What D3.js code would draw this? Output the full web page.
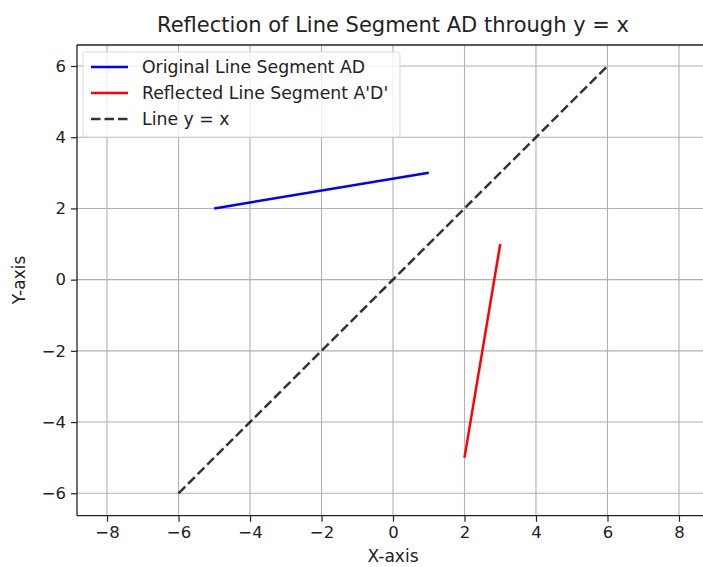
<!DOCTYPE html>
<html><head><meta charset="utf-8">
<script src="https://cdn.jsdelivr.net/npm/d3@7"></script>
<style>body{margin:0;background:#fff}svg{display:block}text{font-family:"DejaVu Sans",sans-serif;fill:#222}</style>
</head><body>
<script>
const originalX = [-5, 1];
const originalY = [2, 3];
const reflectedX = [2, 3];
const reflectedY = [-5, 1];
const diagX = [-6, 6];
const diagY = [-6, 6];
const xTicks = [-8, -6, -4, -2, 0, 2, 4, 6, 8];
const yTicks = [-6, -4, -2, 0, 2, 4, 6];
const seriesNames = ["Original Line Segment AD", "Reflected Line Segment A'D'", "Line y = x"];
const title = "Reflection of Line Segment AD through y = x";

const W = 703, H = 567;
const L = 77, R = 709, T = 45, B = 515.7;
const svg = d3.select("body").append("svg").attr("width", W).attr("height", H);
const x = d3.scaleLinear().domain([-8.84, 8.84]).range([L, R]);
const y = d3.scaleLinear().domain([-6.63, 6.59]).range([B, T]);

const g = svg.append("g");
// grid
g.selectAll(".gx").data(xTicks).join("line").attr("x1", d => x(d)).attr("x2", d => x(d))
  .attr("y1", T).attr("y2", B).attr("stroke", "#b0b0b0").attr("stroke-width", 1.1);
g.selectAll(".gy").data(yTicks).join("line").attr("y1", d => y(d)).attr("y2", d => y(d))
  .attr("x1", L).attr("x2", R).attr("stroke", "#b0b0b0").attr("stroke-width", 1.1);

const line = d3.line().x(d => x(d[0])).y(d => y(d[1]));
const zip = (a, b) => a.map((v, i) => [v, b[i]]);
g.append("path").attr("d", line(zip(originalX, originalY))).attr("stroke", "#0000ff").attr("stroke-width", 2.5).attr("fill", "none");
g.append("path").attr("d", line(zip(reflectedX, reflectedY))).attr("stroke", "#ff0000").attr("stroke-width", 2.5).attr("fill", "none");
g.append("path").attr("d", line(zip(diagX, diagY))).attr("stroke", "#000").attr("stroke-opacity", 0.8).attr("stroke-width", 2.5).attr("stroke-dasharray", "9.5,4").attr("fill", "none");

// axes
const fmt = d => d < 0 ? "\u2212" + (-d) : d;
const xa = svg.append("g").attr("transform", `translate(0,${B})`)
  .call(d3.axisBottom(x).tickValues(xTicks).tickSize(6).tickPadding(5).tickFormat(fmt));
const ya = svg.append("g").attr("transform", `translate(${L},0)`)
  .call(d3.axisLeft(y).tickValues(yTicks).tickSize(6).tickPadding(5).tickFormat(fmt));
[xa, ya].forEach(a => {
  a.select(".domain").remove();
  a.selectAll("line").attr("stroke", "#222").attr("stroke-width", 1.2);
  a.selectAll("text").attr("font-size", 16.5).attr("fill", "#222").attr("font-family", "DejaVu Sans");
});
// spines
svg.append("line").attr("x1", L).attr("x2", R).attr("y1", B).attr("y2", B).attr("stroke", "#222").attr("stroke-width", 1.3);
svg.append("line").attr("x1", L).attr("x2", R).attr("y1", T).attr("y2", T).attr("stroke", "#222").attr("stroke-width", 1.3);
svg.append("line").attr("x1", L).attr("x2", L).attr("y1", T).attr("y2", B).attr("stroke", "#222").attr("stroke-width", 1.3);

// title & labels
svg.append("text").attr("x", 393).attr("y", 32).attr("text-anchor", "middle").attr("font-size", 21).text(title);
svg.append("text").attr("x", 393).attr("y", 562).attr("text-anchor", "middle").attr("font-size", 17).text("X-axis");
svg.append("text").attr("transform", "translate(25,280) rotate(-90)").attr("text-anchor", "middle").attr("font-size", 17).text("Y-axis");

// legend
const lg = svg.append("g");
lg.append("rect").attr("x", 83).attr("y", 52).attr("width", 317).attr("height", 85).attr("rx", 3)
  .attr("fill", "#fff").attr("fill-opacity", 0.8).attr("stroke", "#d9d9d9");
const colors = ["#0000ff", "#ff0000", "#000"];
const dashes = [null, null, "9.5,4"];
seriesNames.forEach((n, i) => {
  const yy = 67 + i * 26;
  lg.append("line").attr("x1", 91).attr("x2", 128).attr("y1", yy).attr("y2", yy)
    .attr("stroke", colors[i]).attr("stroke-width", 2.5).attr("stroke-dasharray", dashes[i]).attr("stroke-opacity", i == 2 ? 0.8 : 1);
  lg.append("text").attr("x", 142).attr("y", yy + 6).attr("font-size", 17.3).text(n);
});
</script>
</body></html>
